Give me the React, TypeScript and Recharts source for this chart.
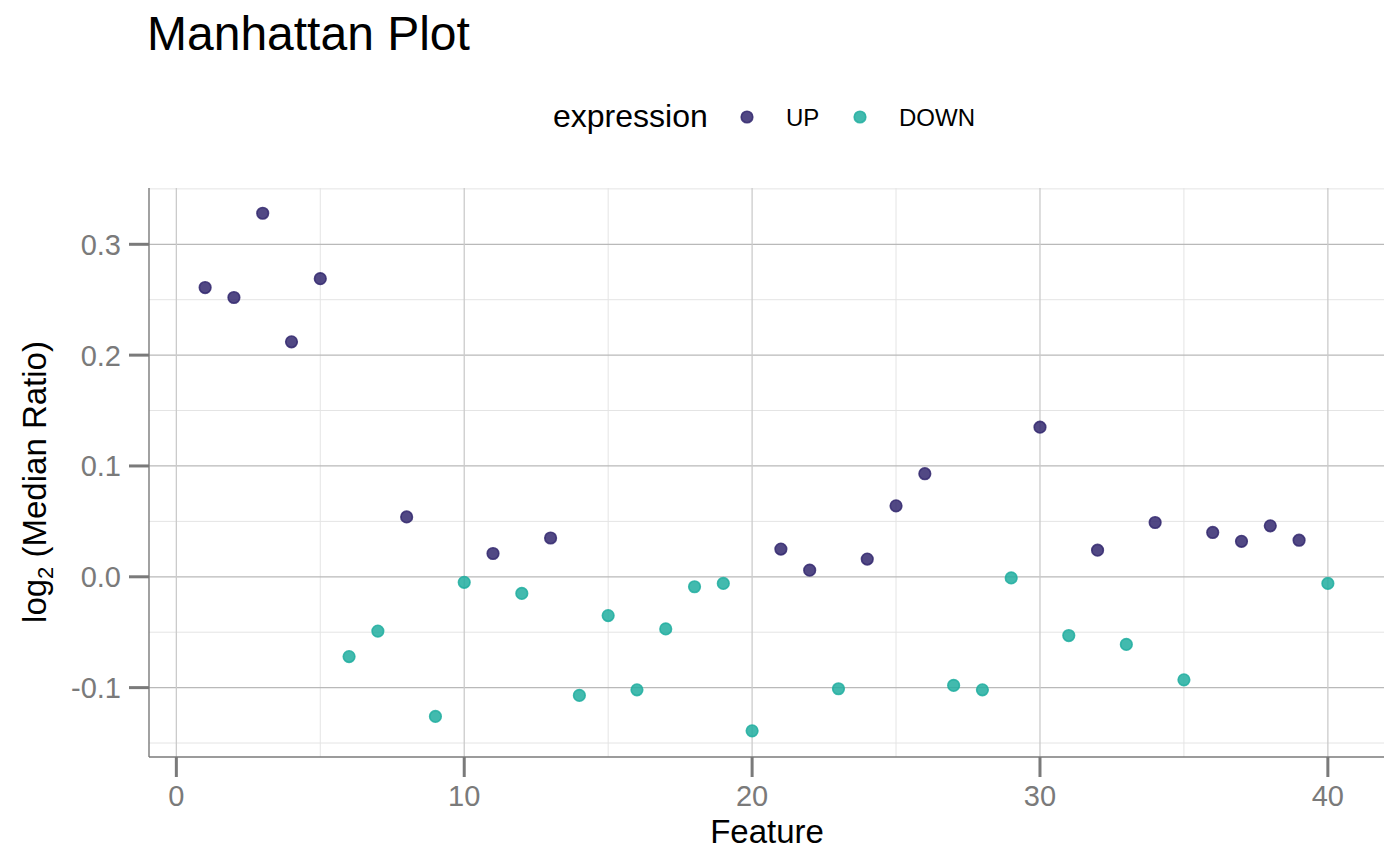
import React from 'react';
import { ScatterChart, Scatter, XAxis, YAxis, CartesianGrid, Customized } from 'recharts';

// values
const features = [
  1, 2, 3, 4, 5, 6, 7, 8, 9, 10,
  11, 12, 13, 14, 15, 16, 17, 18, 19, 20,
  21, 22, 23, 24, 25, 26, 27, 28, 29, 30,
  31, 32, 33, 34, 35, 36, 37, 38, 39, 40,
];
const ratios = [
  0.261, 0.252, 0.328, 0.212, 0.269, -0.072, -0.049, 0.054, -0.126, -0.005,
  0.021, -0.015, 0.035, -0.107, -0.035, -0.102, -0.047, -0.009, -0.006, -0.139,
  0.025, 0.006, -0.101, 0.016, 0.064, 0.093, -0.098, -0.102, -0.001, 0.135,
  -0.053, 0.024, -0.061, 0.049, -0.093, 0.040, 0.032, 0.046, 0.033, -0.006,
];
const expression = [
  'UP', 'UP', 'UP', 'UP', 'UP', 'DOWN', 'DOWN', 'UP', 'DOWN', 'DOWN',
  'UP', 'DOWN', 'UP', 'DOWN', 'DOWN', 'DOWN', 'DOWN', 'DOWN', 'DOWN', 'DOWN',
  'UP', 'UP', 'DOWN', 'UP', 'UP', 'UP', 'DOWN', 'DOWN', 'DOWN', 'UP',
  'DOWN', 'UP', 'DOWN', 'UP', 'DOWN', 'UP', 'UP', 'UP', 'UP', 'DOWN',
];

const groups = ['UP', 'DOWN'];
const xDomain = [-0.95, 41.95];
const yDomain = [-0.1626, 0.3508];
const xTicks = [0, 10, 20, 30, 40];
const xMinor = [5, 15, 25, 35];
const yTicks = [-0.1, 0, 0.1, 0.2, 0.3];
const yTickLabels = ['-0.1', '0.0', '0.1', '0.2', '0.3'];
const yMinor = [-0.15, -0.05, 0.05, 0.15, 0.25, 0.35];

const COLORS: Record<string, string> = { UP: '#33286f', DOWN: '#21aea0' };
const FONT = '"Liberation Sans", Arial, Helvetica, sans-serif';
const AXIS_GREY = '#7a7a7a';

const rows = features.map((f, i) => ({ feature: f, ratio: ratios[i], expression: expression[i] }));

// map a value to pixels with the axis scale when the grid generator gets one,
// otherwise fall back to the plot offset and the fixed domain
const scaleY = (props: any, v: number) => {
  const s = props?.yAxis?.scale;
  if (typeof s === 'function') return s(v);
  if (s && typeof s.map === 'function') return s.map(v);
  const { top, height } = props.offset;
  return top + ((yDomain[1] - v) / (yDomain[1] - yDomain[0])) * height;
};
const scaleX = (props: any, v: number) => {
  const s = props?.xAxis?.scale;
  if (typeof s === 'function') return s(v);
  if (s && typeof s.map === 'function') return s.map(v);
  const { left, width } = props.offset;
  return left + ((v - xDomain[0]) / (xDomain[1] - xDomain[0])) * width;
};

const Dot = (props: any) => {
  const { cx, cy, fill } = props;
  if (cx == null || cy == null) return null;
  return (
    <circle cx={cx} cy={cy} r={5.8} fill={fill} fillOpacity={0.85}
      stroke={fill} strokeOpacity={0.85} strokeWidth={1.6} />
  );
};

const XTick = (props: any) => {
  const { x, y, payload } = props;
  return (
    <text x={x} y={y + 29} textAnchor="middle" fontSize={29} fill={AXIS_GREY} fontFamily={FONT}>
      {payload.value}
    </text>
  );
};

const YTick = (props: any) => {
  const { x, y, payload } = props;
  const idx = yTicks.indexOf(payload.value);
  return (
    <text x={x - 8} y={y + 10.5} textAnchor="end" fontSize={29} fill={AXIS_GREY} fontFamily={FONT}>
      {idx >= 0 ? yTickLabels[idx] : payload.value}
    </text>
  );
};

const Overlay = () => (
  <g fontFamily={FONT}>
    <text x={147} y={50} fontSize={48} fill="#000">Manhattan Plot</text>

    <text x={553} y={127} fontSize={32} fill="#000">expression</text>
    <circle cx={747} cy={117} r={5.8} fill={COLORS.UP} fillOpacity={0.85}
      stroke={COLORS.UP} strokeOpacity={0.85} strokeWidth={1.6} />
    <text x={786} y={126} fontSize={24} fill="#000">UP</text>
    <circle cx={860} cy={117} r={5.8} fill={COLORS.DOWN} fillOpacity={0.85}
      stroke={COLORS.DOWN} strokeOpacity={0.85} strokeWidth={1.6} />
    <text x={899} y={126} fontSize={24} fill="#000">DOWN</text>

    <text x={767} y={843} fontSize={33} textAnchor="middle" fill="#000">Feature</text>
    <text x={46} y={482} fontSize={33} textAnchor="middle" fill="#000"
      transform="rotate(-90, 46, 482)">
      log<tspan fontSize={22} dy={7}>2</tspan><tspan dy={-7}> (Median Ratio)</tspan>
    </text>
  </g>
);

const App: React.FC = () => {
  return (
    <div style={{ position: 'absolute', left: 0, top: 0, width: 1400, height: 866, background: '#fff' }}>
      <ScatterChart width={1400} height={866} margin={{ top: 188, right: 16, bottom: 0, left: 0 }}>
        {/* minor grid */}
        <CartesianGrid stroke="#e4e4e4" strokeWidth={1}
          horizontalCoordinatesGenerator={(p: any) => yMinor.map((v) => scaleY(p, v))}
          verticalCoordinatesGenerator={(p: any) => xMinor.map((v) => scaleX(p, v))} />
        {/* major grid */}
        <CartesianGrid stroke="#b9b9b9" strokeWidth={1.3} vertical={false}
          horizontalCoordinatesGenerator={(p: any) => yTicks.map((v) => scaleY(p, v))} />
        <CartesianGrid stroke="#cbcbcb" strokeWidth={1.3} horizontal={false}
          verticalCoordinatesGenerator={(p: any) => xTicks.map((v) => scaleX(p, v))} />
        <XAxis type="number" dataKey="feature" domain={xDomain} ticks={xTicks}
          allowDataOverflow height={109} tickSize={20} tickMargin={0}
          axisLine={{ stroke: AXIS_GREY, strokeWidth: 1.4 }}
          tickLine={{ stroke: AXIS_GREY, strokeWidth: 3 }} tick={<XTick />} />
        <YAxis type="number" dataKey="ratio" domain={yDomain} ticks={yTicks}
          allowDataOverflow width={149} tickSize={20} tickMargin={0}
          axisLine={{ stroke: AXIS_GREY, strokeWidth: 1.4 }}
          tickLine={{ stroke: AXIS_GREY, strokeWidth: 3 }} tick={<YTick />} />
        {groups.map((g) => (
          <Scatter key={g} name={g} data={rows.filter((r) => r.expression === g)}
            fill={COLORS[g]} shape={<Dot />} isAnimationActive={false} />
        ))}
        <Customized component={Overlay} />
      </ScatterChart>
    </div>
  );
};

export default App;
